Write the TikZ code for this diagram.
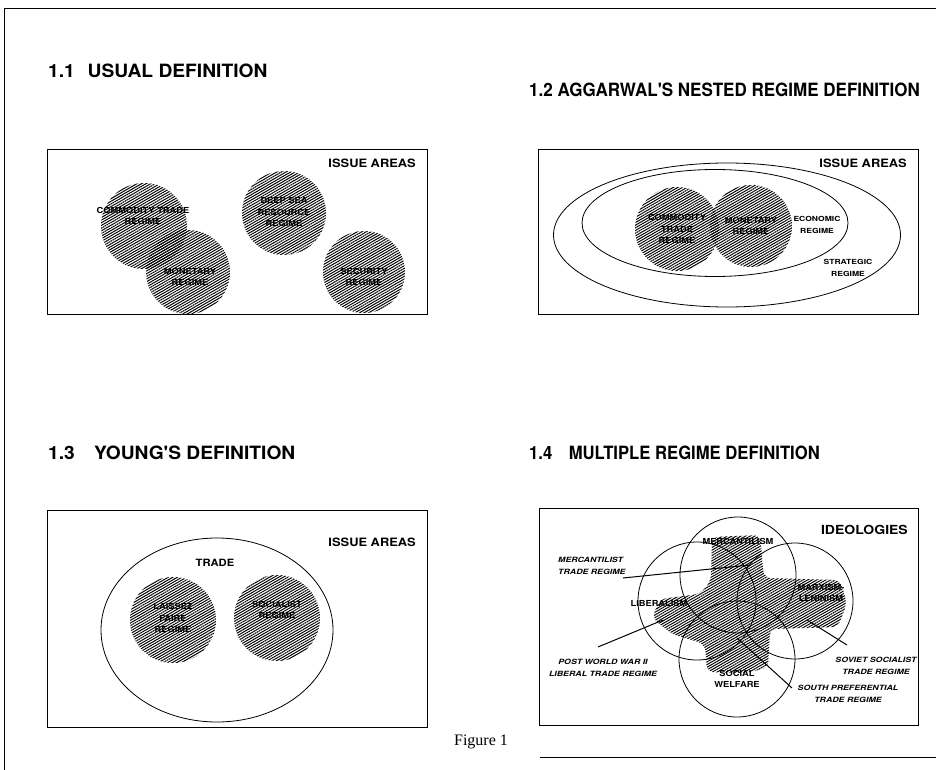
\documentclass[tikz,border=0pt]{standalone}
\usepackage{fontspec}
\setsansfont{TeX Gyre Heros}
\newfontfamily\titlef[FakeStretch=0.93]{TeX Gyre Heros}
\newfontfamily\titlen[FakeStretch=0.91]{TeX Gyre Heros}
\newfontfamily\titlew[FakeStretch=1.05]{TeX Gyre Heros}
\newfontfamily\labf[FakeStretch=1.12]{TeX Gyre Heros}
\newfontfamily\smlf[FakeStretch=1.22]{TeX Gyre Heros}
\newfontfamily\capf{Liberation Serif}
\usetikzlibrary{patterns.meta,shapes.geometric}
\begin{document}
\begin{tikzpicture}[x=1pt,y=-1pt,
  frameline/.style={line width=0.8pt},
  panel/.style={draw,line width=0.9pt},
  hatch/.style={pattern={Lines[angle=30,distance=2.3pt,line width=1pt]},pattern color=black},
  hcirc/.style={circle,hatch,inner sep=0pt,minimum size=#1},
  ring/.style={draw,line width=0.8pt},
  title/.style={anchor=west,inner sep=0pt,font=\titlef\bfseries\fontsize{18.3}{18}\selectfont},
  titlewide/.style={title,font=\titlew\bfseries\fontsize{18.3}{18}\selectfont},
  titlenarrow/.style={title,font=\titlen\bfseries\fontsize{18.3}{18}\selectfont},
  corner/.style={anchor=east,inner sep=0pt,font=\labf\bfseries\fontsize{11.5}{12}\selectfont},
  lab/.style={align=center,inner sep=0pt,font=\labf\bfseries\fontsize{8.3}{11.5}\selectfont},
  slab/.style={align=center,inner sep=0pt,font=\smlf\bfseries\fontsize{7}{12}\selectfont},
  ilab/.style={align=center,inner sep=0pt,font=\smlf\bfseries\itshape\fontsize{7.2}{12.5}\selectfont},
  leader/.style={line width=1pt}
]
\useasboundingbox (0,0) rectangle (936,770);
% outer frame
\draw[frameline] (936,8) -- (4,8) -- (4,770);
\draw[frameline] (540,757) -- (936,757);

% titles
\node[titlewide] (t1) at (48,71) {1.1\hspace{0.7em}USUAL DEFINITION};
\node[title] (t2) at (529,90) {1.2 AGGARWAL'S NESTED REGIME DEFINITION};
\node[titlewide] (t3) at (48,453) {1.3\hspace{1.05em}YOUNG'S DEFINITION};
\node[titlenarrow] (t4) at (529,453) {1.4\hspace{0.9em}MULTIPLE REGIME DEFINITION};

% ---------- panel 1.1
\draw[panel] (47,149) rectangle (427,314);
\node[corner] (ia1) at (416,163) {ISSUE AREAS};
\node[hcirc=86pt] (c11) at (144,226) {};
\node[hcirc=84pt] (c12) at (188,272) {};
\node[hcirc=84pt] (c13) at (284,213) {};
\node[hcirc=82pt] (c14) at (364,272) {};
\node[lab] (l11) at (143,216) {COMMODITY TRADE\\REGIME};
\node[lab] (l12) at (190,277) {MONETARY\\REGIME};
\node[lab] (l13) at (284,212) {DEEP SEA\\RESOURCE\\REGIME};
\node[lab] (l14) at (364,277) {SECURITY\\REGIME};

% ---------- panel 1.2
\draw[panel] (538,149) rectangle (918,314);
\node[corner] (ia2) at (907,163) {ISSUE AREAS};
\node[ring,ellipse,minimum width=347pt,minimum height=144pt,inner sep=0pt] (e21) at (727,235) {};
\node[ring,ellipse,minimum width=266pt,minimum height=107pt,inner sep=0pt] (e22) at (715,223) {};
\node[hcirc=84pt] (c21) at (677,229) {};
\node[hcirc=82pt] (c22) at (751,226) {};
\node[lab] (l21) at (677,229) {COMMODITY\\TRADE\\REGIME};
\node[lab] (l22) at (751,226) {MONETARY\\REGIME};
\node[slab] (l23) at (817,225) {ECONOMIC\\REGIME};
\node[slab] (l24) at (848,268) {STRATEGIC\\REGIME};

% ---------- panel 1.3
\draw[panel] (47,510) rectangle (427,727);
\node[corner] (ia3) at (416,542) {ISSUE AREAS};
\node[ring,ellipse,minimum width=232pt,minimum height=184pt,inner sep=0pt] (e31) at (217,630) {};
\node[lab,font=\labf\bfseries\fontsize{10}{11}\selectfont] (l30) at (215,563) {TRADE};
\node[hcirc=86pt] (c31) at (173,620) {};
\node[hcirc=86pt] (c32) at (277,618) {};
\node[lab] (l31) at (173,618) {LAISSEZ\\FAIRE\\REGIME};
\node[lab] (l32) at (277,610) {SOCIALIST\\REGIME};

% ---------- panel 1.4
\draw[panel] (539,508) rectangle (918,725);
\node[corner,font=\labf\bfseries\fontsize{12.5}{13}\selectfont] (id4) at (908,530) {IDEOLOGIES};
\fill[hatch,rounded corners=7pt]
  (712,537) -- (760,535) -- (764,578) -- (840,580) -- (847,603) -- (838,627)
  -- (770,629) -- (768,668) -- (745,673) -- (707,672) -- (705,644) -- (672,634)
  -- (652,618) -- (660,599) -- (700,594) -- (711,581) -- cycle;
\node[ring,circle,minimum size=116pt,inner sep=0pt] (cm) at (738,575) {};
\node[ring,circle,minimum size=118pt,inner sep=0pt] (cl) at (697,601) {};
\node[ring,circle,minimum size=116pt,inner sep=0pt] (cx) at (795,601) {};
\node[ring,circle,minimum size=116pt,inner sep=0pt] (cs) at (737,659) {};
\node[lab] (lm) at (738,541) {MERCANTILISM};
\node[lab] (ll) at (659,603) {LIBERALISM};
\node[lab] (lx) at (821,593) {MARXISM-\\LENINISM};
\node[lab] (ls) at (737,679) {SOCIAL\\WELFARE};

\node[ilab,align=left,anchor=west] (rm) at (558,566) {MERCANTILIST\\TRADE REGIME};
\node[ilab] (rp) at (603,668) {POST WORLD WAR II\\LIBERAL TRADE REGIME};
\node[ilab] (rv) at (876,666) {SOVIET SOCIALIST\\TRADE REGIME};
\node[ilab] (rs) at (848,694) {SOUTH PREFERENTIAL\\TRADE REGIME};

\coordinate (m0) at (623,578);
\coordinate (m1) at (750,565);
\coordinate (p0) at (598,647);
\coordinate (p1) at (663,620);
\coordinate (v0) at (847,645);
\coordinate (v1) at (807,620);
\coordinate (s0) at (792,688);
\coordinate (s1) at (737,638);
\draw[leader] (m0) -- (m1);
\draw[leader] (p0) -- (p1);
\draw[leader] (v0) -- (v1);
\draw[leader] (s0) -- (s1);

% caption
\node[inner sep=0pt,font=\capf\fontsize{16}{16}\selectfont] (cap) at (481,742) {Figure 1};
\end{tikzpicture}
\end{document}
